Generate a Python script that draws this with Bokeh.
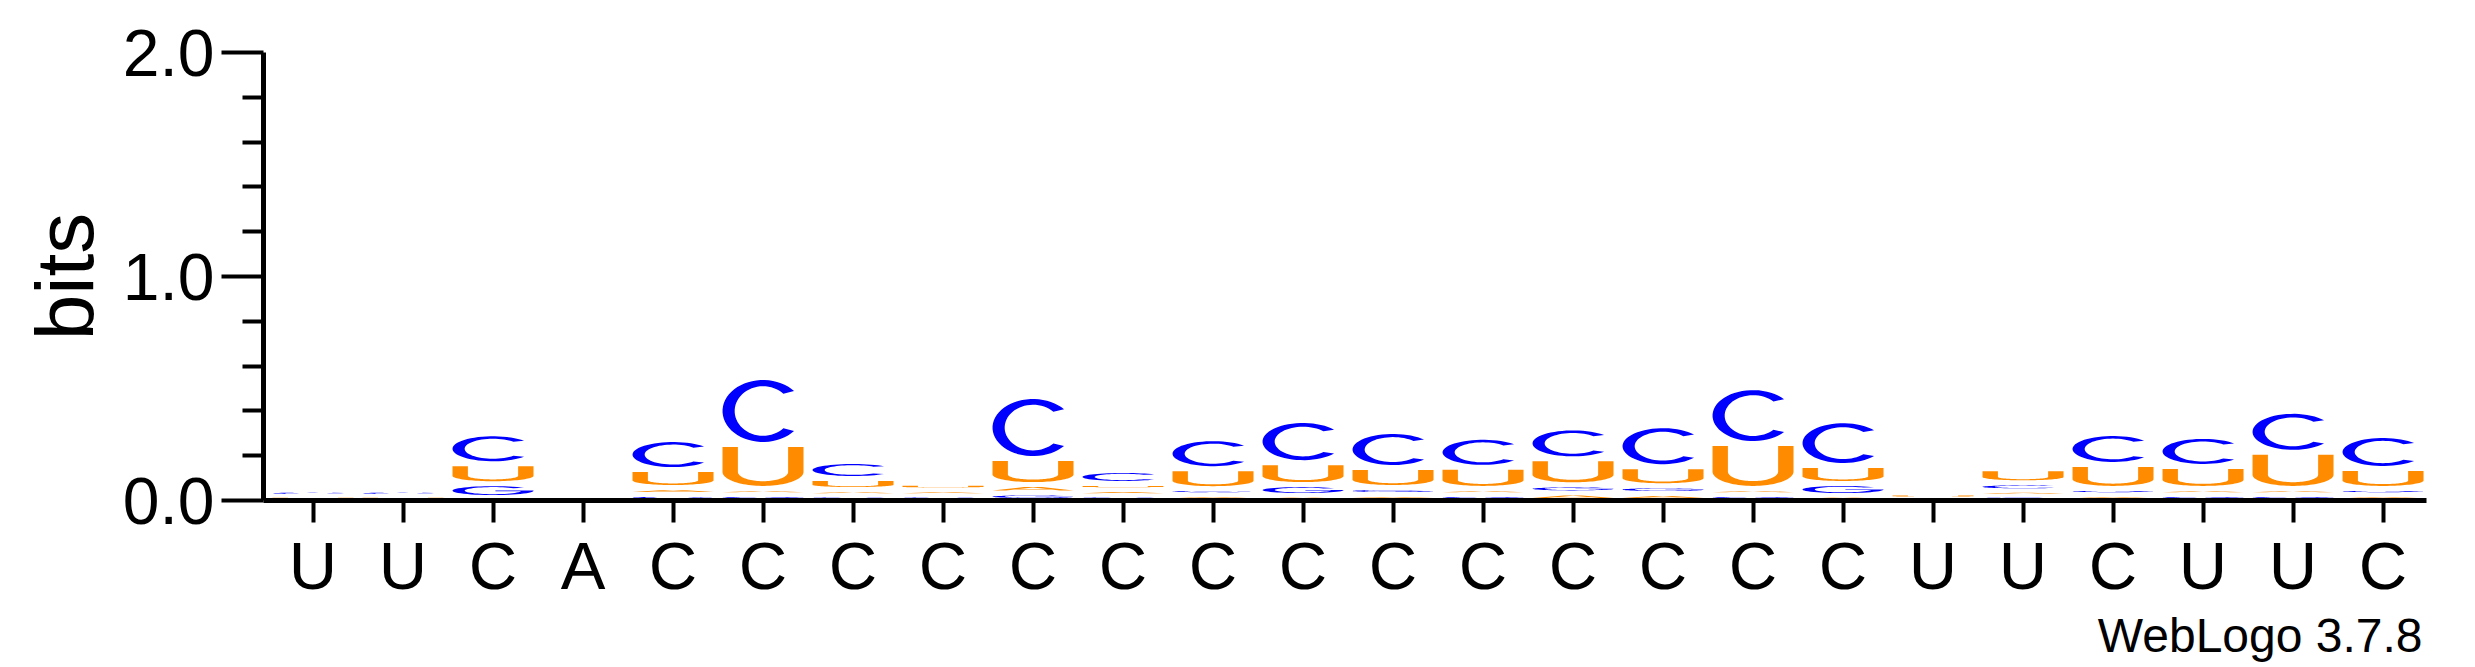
import numpy as np
from bokeh.plotting import figure
from bokeh.models import FixedTicker, Range1d, Title, ColumnDataSource, NumeralTickFormatter
from bokeh.embed import file_html
from bokeh.resources import INLINE

# ---------------- data (bits per letter, per position) ----------------
positions = list(range(1, 25))
consensus = ["U", "U", "C", "A", "C", "C", "C", "C", "C", "C", "C", "C",
             "C", "C", "C", "C", "C", "C", "U", "U", "C", "U", "U", "C"]
bits_A = [0.000, 0.000, 0.013, 0.000, 0.031, 0.028, 0.027, 0.025, 0.037, 0.026, 0.026, 0.022,
          0.027, 0.028, 0.034, 0.031, 0.028, 0.022, 0.010, 0.022, 0.026, 0.028, 0.028, 0.026]
bits_C = [0.025, 0.025, 0.134, 0.000, 0.134, 0.299, 0.076, 0.022, 0.277, 0.058, 0.134, 0.188,
          0.161, 0.134, 0.138, 0.183, 0.250, 0.200, 0.000, 0.036, 0.138, 0.134, 0.183, 0.147]
bits_G = [0.000, 0.000, 0.062, 0.000, 0.027, 0.026, 0.022, 0.000, 0.034, 0.022, 0.027, 0.049,
          0.031, 0.026, 0.036, 0.035, 0.026, 0.054, 0.000, 0.021, 0.028, 0.026, 0.026, 0.028]
bits_U = [0.020, 0.020, 0.089, 0.000, 0.080, 0.196, 0.049, 0.030, 0.116, 0.028, 0.089, 0.098,
          0.089, 0.094, 0.116, 0.085, 0.200, 0.080, 0.020, 0.063, 0.107, 0.098, 0.161, 0.089]
letter_colors = {"A": "#FF8C00", "U": "#FF8C00", "C": "#0000FF", "G": "#0000FF"}

# ---------------- layout ----------------
W, H = 2467, 667
ML, MR, MT, MB = 263, 41, 52, 167
Y0, Y1 = 0.0, 2.0
X0, X1 = 0.45, 24.483
frame_h = H - MT - MB
px_per_bit = frame_h / (Y1 - Y0)
GAP = 2.5 / px_per_bit
MINH = 1.2 / px_per_bit
HALFW = 0.45


# ---------------- glyph outlines in a unit box ----------------
def arc(cx, cy, rx, ry, a0, a1, n=48):
    t = np.radians(np.linspace(a0, a1, n))
    return list(cx + rx * np.cos(t)), list(cy + ry * np.sin(t))


def glyph_C():
    ox, oy = arc(0.5, 0.5, 0.5, 0.5, 40, 320)
    ix, iy = arc(0.5, 0.5, 0.35, 0.40, 316, 44)
    return [[ox + ix, oy + iy]]


def glyph_G():
    ox, oy = arc(0.5, 0.5, 0.5, 0.5, 40, 360)
    bx = [1.0, 0.53, 0.53, 0.85]
    by = [0.52, 0.52, 0.42, 0.42]
    ix, iy = arc(0.5, 0.5, 0.35, 0.40, 346, 44)
    return [[ox + bx + ix, oy + by + iy]]


def glyph_U():
    sw, bt, y0 = 0.19, 0.12, 0.36
    ax, ay = arc(0.5, y0, 0.5, y0, 180, 360)
    bx, by = arc(0.5, y0, 0.5 - sw, y0 - bt, 360, 180)
    xs = [0.0] + ax + [1.0, 1.0 - sw] + bx + [sw]
    ys = [1.0] + ay + [1.0, 1.0] + by + [1.0]
    return [[xs, ys]]


def glyph_A():
    ox = [0.0, 0.39, 0.61, 1.0, 0.83, 0.73, 0.27, 0.17]
    oy = [0.0, 1.0, 1.0, 0.0, 0.0, 0.28, 0.28, 0.0]
    hx = [0.33, 0.67, 0.5]
    hy = [0.43, 0.43, 0.88]
    return [[ox, hx], [oy, hy]]


SHAPES = {"C": glyph_C(), "G": glyph_G(), "U": glyph_U(), "A": glyph_A()}


def place(letter, xc, base, h):
    rings = SHAPES[letter]
    gh = max(h - 2 * GAP, MINH)
    gb = base + (h - gh) / 2.0
    if letter == "A":
        xr, yr = rings
    else:
        xr = [rings[0][0]]
        yr = [rings[0][1]]
    xs = [list(xc - HALFW + np.array(r) * 2 * HALFW) for r in xr]
    ys = [list(gb + np.array(r) * gh) for r in yr]
    return [xs], [ys]


xs_all, ys_all, cols = [], [], []
order = ["A", "G", "U", "C"]
for i, pos in enumerate(positions):
    vals = {"A": bits_A[i], "C": bits_C[i], "G": bits_G[i], "U": bits_U[i]}
    stack = sorted([k for k in order if vals[k] > 0], key=lambda k: vals[k])
    base = 0.0
    for k in stack:
        gx, gy = place(k, pos, base, vals[k])
        xs_all.append(gx)
        ys_all.append(gy)
        cols.append(letter_colors[k])
        base += vals[k]

src = ColumnDataSource(dict(xs=xs_all, ys=ys_all, color=cols))

p = figure(width=W, height=H, x_range=Range1d(X0, X1), y_range=Range1d(Y0, Y1),
           output_backend="svg", toolbar_location=None,
           min_border_left=ML, min_border_right=MR, min_border_top=MT, min_border_bottom=MB)
p.multi_polygons(xs="xs", ys="ys", fill_color="color", line_color=None, source=src)

p.grid.visible = False
p.outline_line_color = None
p.background_fill_color = "white"

FONT = "Liberation Sans"

# x axis
xa = p.xaxis[0]
xa.ticker = FixedTicker(ticks=positions)
xa.major_label_overrides = {pos: consensus[i] for i, pos in enumerate(positions)}
xa.axis_line_width = 5
xa.major_tick_line_width = 4
xa.major_tick_out = 22
xa.major_tick_in = 0
xa.minor_tick_line_color = None
xa.major_label_text_font = FONT
xa.major_label_text_font_size = "67px"
xa.major_label_text_color = "black"
xa.major_label_standoff = 5

# y axis
ya = p.yaxis[0]
ya.ticker = FixedTicker(ticks=[0, 1, 2], minor_ticks=[0.2, 0.4, 0.6, 0.8, 1.2, 1.4, 1.6, 1.8])
ya.formatter = NumeralTickFormatter(format="0.0")
ya.axis_line_width = 5
ya.major_tick_line_width = 4
ya.minor_tick_line_width = 4
ya.major_tick_out = 42
ya.major_tick_in = 0
ya.minor_tick_out = 21
ya.minor_tick_in = 0
ya.major_label_text_font = FONT
ya.major_label_text_font_size = "66px"
ya.major_label_text_color = "black"
ya.major_label_standoff = 7
ya.axis_label = "bits"
ya.axis_label_text_font = FONT
ya.axis_label_text_font_size = "82px"
ya.axis_label_text_font_style = "normal"
ya.axis_label_text_color = "black"
ya.axis_label_standoff = 10

# fine print below the x axis, right-aligned
credit = Title(text="WebLogo 3.7.8", align="right", offset=4, standoff=2,
               text_font=FONT, text_font_size="48px",
               text_font_style="normal", text_color="black")
p.add_layout(credit, "below")

open("out.html", "w").write(file_html(p, INLINE))
